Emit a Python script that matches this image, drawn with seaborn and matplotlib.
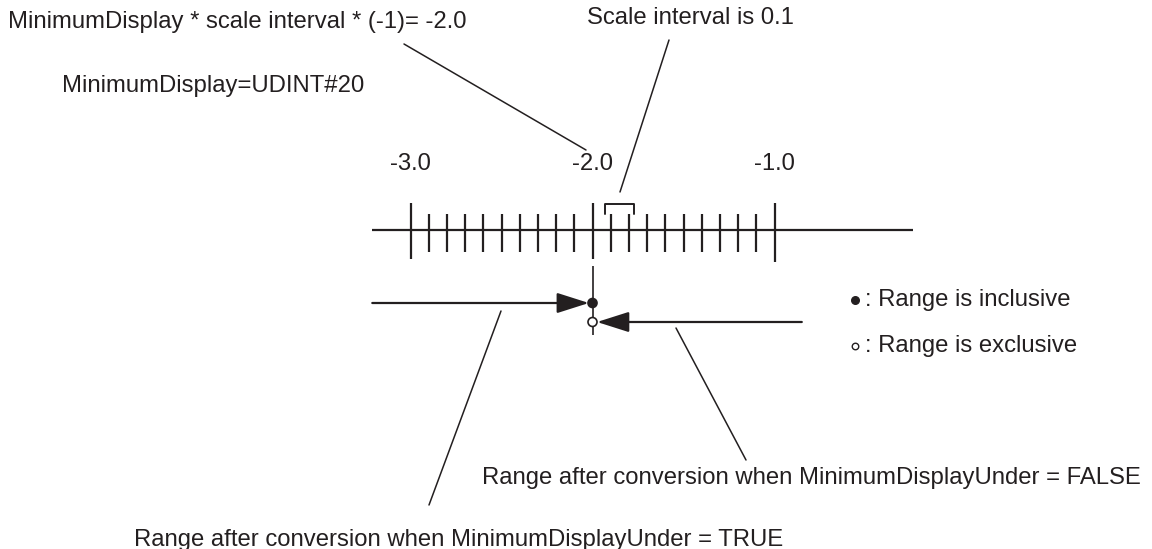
import numpy as np
import pandas as pd
import seaborn as sns
import matplotlib.pyplot as plt

# scale values
major_values = [-3.0, -2.0, -1.0]
major_labels = ["-3.0", "-2.0", "-1.0"]
minor_values = [-2.9, -2.8, -2.7, -2.6, -2.5, -2.4, -2.3, -2.2, -2.1,
                -1.9, -1.8, -1.7, -1.6, -1.5, -1.4, -1.3, -1.2, -1.1]
minimum_display = -2.0
scale_interval = 0.1
interval_pair = [-1.9, -1.8]

title_min = "MinimumDisplay * scale interval * (-1)= -2.0"
title_interval = "Scale interval is 0.1"
title_udint = "MinimumDisplay=UDINT#20"
legend_texts = [": Range is inclusive", ": Range is exclusive"]
note_false = "Range after conversion when MinimumDisplayUnder = FALSE"
note_true = "Range after conversion when MinimumDisplayUnder = TRUE"

sns.set_theme(style="white")
plt.rcParams["font.family"] = ["Liberation Sans", "DejaVu Sans"]

W, H = 1152, 549
fig = plt.figure(figsize=(W / 100, H / 100), dpi=100)

# scale axes: x in value units, y in pixels
px_per_unit = 182
left = -3.0 - 410.5 / px_per_unit
ax = fig.add_axes([0, 0, 1, 1])
ax.set_xlim(left, left + W / px_per_unit)
ax.set_ylim(H, 0)
ax.axis("off")

# annotation layer in pixels
ann = fig.add_axes([0, 0, 1, 1], sharey=ax)
ann.set_xlim(0, W)
ann.patch.set_alpha(0)
ann.axis("off")

k = "#231f20"
fs = 17.2

# main line and ticks
ax.plot([-3.21, -0.24], [230, 230], color=k, lw=1.6, solid_capstyle="butt")
ax.vlines(major_values[:2], 203, 259, color=k, lw=1.6)
ax.vlines(major_values[2:], 203, 262, color=k, lw=1.6)
ax.vlines(minor_values, 214, 252, color=k, lw=1.6)
for v, lab in zip(major_values, major_labels):
    ax.text(v, 164, lab, ha="center", va="center", fontsize=fs, color=k)

# lower extension at minimum display
ax.vlines([minimum_display], 266, 335, color=k, lw=1.2)

# bracket over one interval
b0 = interval_pair[0] - 0.03
b1 = interval_pair[1] + 0.03
ax.plot([b0, b0, b1, b1], [214, 204, 204, 214], color=k, lw=1.4)

# range arrows
pts = pd.DataFrame({"x": [minimum_display, minimum_display], "y": [303, 322],
                    "kind": ["inclusive", "exclusive"]})
ax.annotate("", xy=(minimum_display - 0.02, 303), xytext=(-3.21, 303),
            arrowprops=dict(arrowstyle="-|>,head_length=1.1,head_width=0.35",
                            mutation_scale=18, color=k, lw=1.6, shrinkA=0, shrinkB=0))
ax.annotate("", xy=(minimum_display + 0.025, 322), xytext=(-0.85, 322),
            arrowprops=dict(arrowstyle="-|>,head_length=1.1,head_width=0.35",
                            mutation_scale=18, color=k, lw=1.6, shrinkA=0, shrinkB=0))
sns.scatterplot(data=pts, x="x", y="y", hue="kind",
                palette={"inclusive": k, "exclusive": "white"},
                edgecolor=k, linewidth=1.2, s=42, legend=False, ax=ax, zorder=5)

# texts and leader lines
ann.text(8, 22, title_min, ha="left", va="center", fontsize=fs, color=k)
ann.plot([404, 586], [44, 150], color=k, lw=1.1)
ann.text(587, 18, title_interval, ha="left", va="center", fontsize=fs, color=k)
ann.plot([669, 620], [40, 192], color=k, lw=1.1)
ann.text(62, 86, title_udint, ha="left", va="center", fontsize=fs, color=k)

ann.plot([501, 429], [311, 505], color=k, lw=1.1)
ann.plot([676, 746], [328, 460], color=k, lw=1.1)
ann.text(482, 478, note_false, ha="left", va="center", fontsize=fs, color=k)
ann.text(134, 540, note_true, ha="left", va="center", fontsize=fs, color=k)

# legend symbols
ann.scatter([855], [300], s=30, color=k, zorder=5)
ann.scatter([855], [346], s=22, facecolor="white", edgecolor=k, linewidth=1.0, zorder=5)
ann.text(865, 300, legend_texts[0], ha="left", va="center", fontsize=fs, color=k)
ann.text(865, 346, legend_texts[1], ha="left", va="center", fontsize=fs, color=k)

fig.savefig("out.png", dpi=100)
